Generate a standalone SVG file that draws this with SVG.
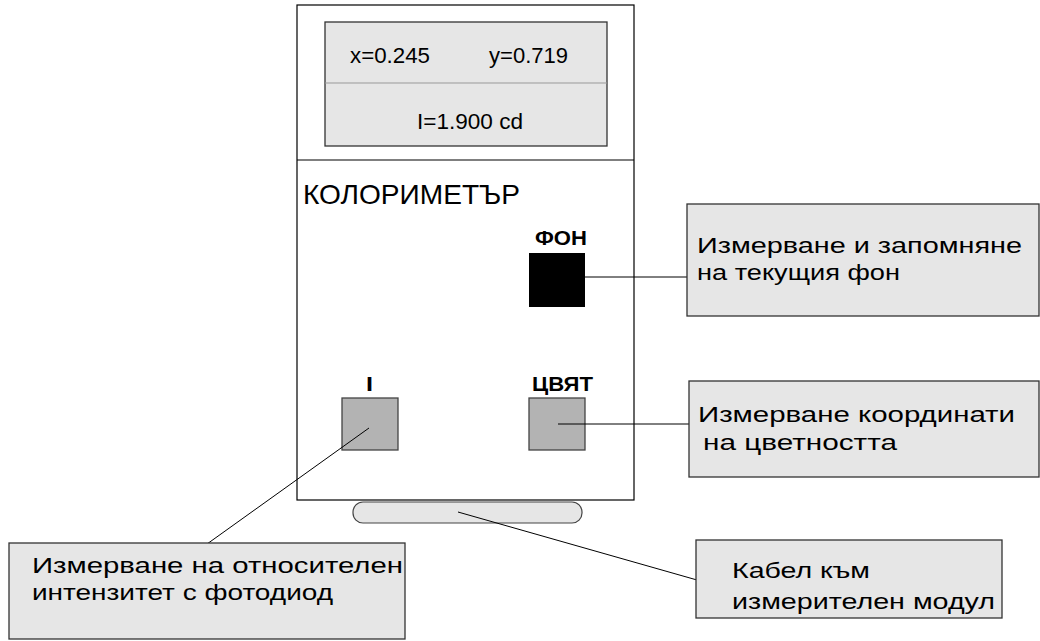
<svg xmlns="http://www.w3.org/2000/svg" width="1040" height="641" viewBox="0 0 1040 641">
<style>
text{font-family:"Liberation Sans",Arial,sans-serif;fill:#000}
.box{fill:#e6e6e6;stroke:#333;stroke-width:1.3}
.btn{fill:#b3b3b3;stroke:#444;stroke-width:1.3}
.ln{stroke:#000;stroke-width:1;fill:none}
.lbl{font-size:22px}
.disp{font-size:22px}
.b{font-weight:bold;font-size:21px}
</style>
<rect width="1040" height="641" fill="#fff"/>
<g id="colorimeter">
<rect x="297" y="5" width="337" height="495" fill="#fff" stroke="#000" stroke-width="1.2"/>
<line x1="297" y1="160" x2="634" y2="160" stroke="#000" stroke-width="1.2"/>
<text x="303" y="204" font-size="28" textLength="217" lengthAdjust="spacingAndGlyphs">КОЛОРИМЕТЪР</text>
</g>
<g id="display">
<rect class="box" x="325" y="22" width="282" height="124" stroke="#555"/>
<line x1="325" y1="83" x2="607" y2="83" stroke="#999" stroke-width="1"/>
<text class="disp" x="350" y="63" textLength="80" lengthAdjust="spacingAndGlyphs">x=0.245</text>
<text class="disp" x="489" y="63" textLength="79" lengthAdjust="spacingAndGlyphs">y=0.719</text>
<text class="disp" x="417" y="129" textLength="106" lengthAdjust="spacingAndGlyphs">I=1.900 cd</text>
</g>
<g id="btn-fon">
<text class="b" x="535" y="245" font-size="19" textLength="52" lengthAdjust="spacingAndGlyphs">ФОН</text>
<rect x="529" y="253" width="56" height="54" fill="#000"/>
</g>
<g id="btn-i">
<text class="b" x="366" y="391" textLength="7" lengthAdjust="spacingAndGlyphs">I</text>
<rect class="btn" x="342" y="398" width="56" height="52"/>
</g>
<g id="btn-color">
<text class="b" x="532" y="391" textLength="61" lengthAdjust="spacingAndGlyphs">ЦВЯТ</text>
<rect class="btn" x="529" y="398" width="56" height="52"/>
</g>
<g id="cable">
<rect x="353" y="502" width="229" height="21" rx="10" ry="10" fill="#e6e6e6" stroke="#444" stroke-width="1.2"/>
</g>
<g id="connectors">
<line class="ln" x1="585" y1="277" x2="687" y2="277"/>
<line class="ln" x1="558" y1="424" x2="689" y2="424"/>
<line class="ln" x1="369" y1="428" x2="207" y2="544"/>
<line class="ln" x1="458" y1="512" x2="697" y2="580"/>
</g>
<g id="note-fon">
<rect class="box" x="687" y="204" width="352" height="112"/>
<text class="lbl" x="697" y="253" textLength="325" lengthAdjust="spacingAndGlyphs">Измерване и запомняне</text>
<text class="lbl" x="697" y="280" textLength="203" lengthAdjust="spacingAndGlyphs">на текущия фон</text>
</g>
<g id="note-color">
<rect class="box" x="689" y="381" width="350" height="96"/>
<text class="lbl" x="698" y="422" textLength="317" lengthAdjust="spacingAndGlyphs">Измерване координати</text>
<text class="lbl" x="703" y="450" textLength="194" lengthAdjust="spacingAndGlyphs">на цветността</text>
</g>
<g id="note-i">
<rect class="box" x="9" y="543" width="396" height="96"/>
<text class="lbl" x="32" y="573" textLength="371" lengthAdjust="spacingAndGlyphs">Измерване на относителен</text>
<text class="lbl" x="32" y="600" textLength="301" lengthAdjust="spacingAndGlyphs">интензитет с фотодиод</text>
</g>
<g id="note-cable">
<rect class="box" x="696" y="540" width="306" height="78"/>
<text class="lbl" x="732" y="578" textLength="138" lengthAdjust="spacingAndGlyphs">Кабел към</text>
<text class="lbl" x="732" y="609" textLength="263" lengthAdjust="spacingAndGlyphs">измерителен модул</text>
</g>
</svg>
